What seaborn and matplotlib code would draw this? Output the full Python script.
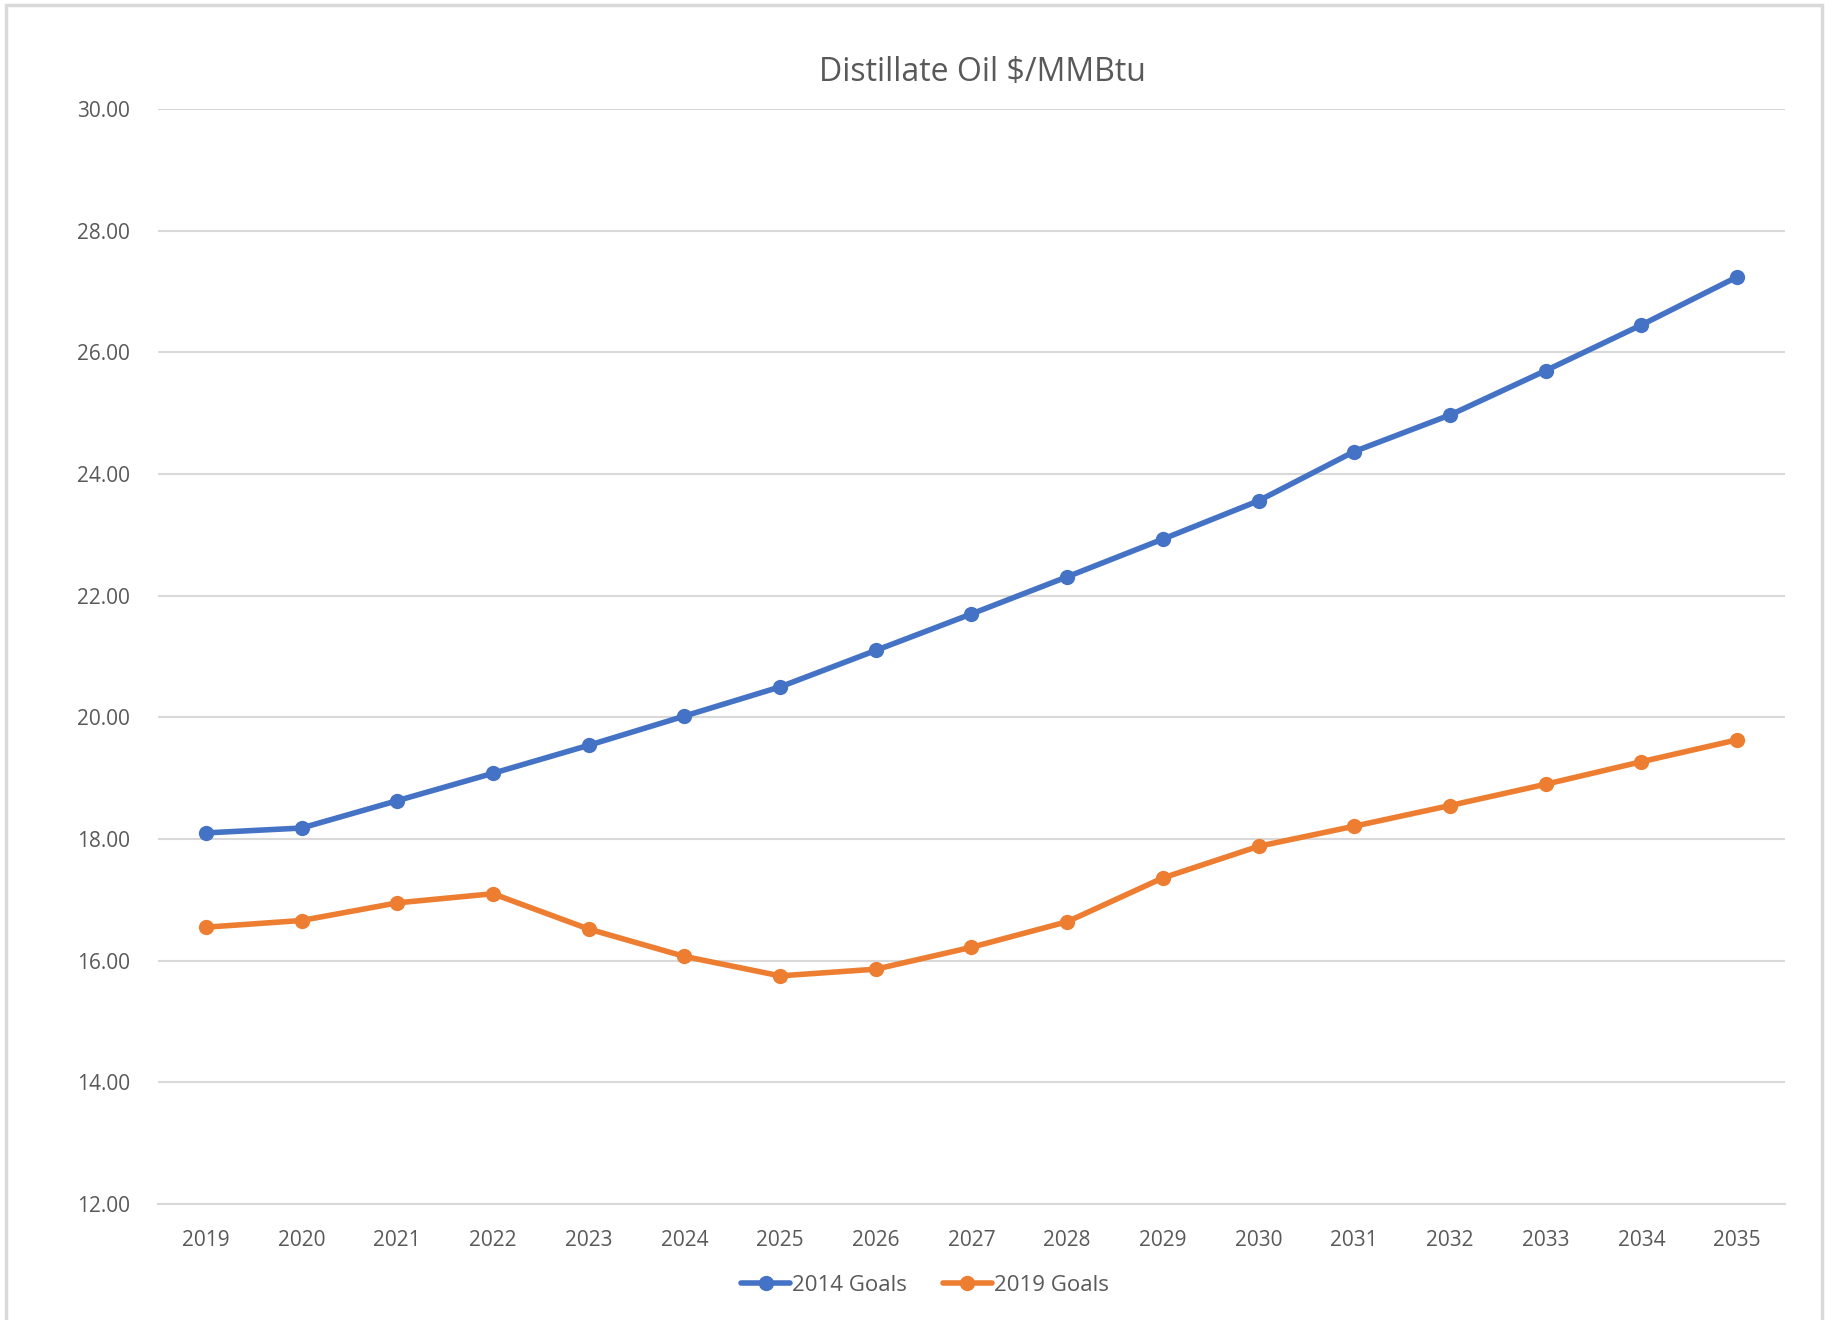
import numpy as np
import pandas as pd
import matplotlib
matplotlib.use("Agg")
import matplotlib.pyplot as plt
from matplotlib.patches import Rectangle
import seaborn as sns

# data
years = [str(y) for y in range(2019, 2036)]
goals_2014 = [18.10, 18.18, 18.63, 19.08, 19.54, 20.02, 20.50, 21.10, 21.70,
              22.31, 22.93, 23.56, 24.37, 24.97, 25.70, 26.45, 27.24]
goals_2019 = [16.55, 16.66, 16.95, 17.10, 16.52, 16.07, 15.75, 15.86, 16.22,
              16.64, 17.36, 17.88, 18.21, 18.55, 18.90, 19.27, 19.63]
series_names = ["2014 Goals", "2019 Goals"]
yticks = [12, 14, 16, 18, 20, 22, 24, 26, 28, 30]

sns.set_theme(style="white")
plt.rcParams['font.family'] = ['Open Sans', 'DejaVu Sans']
text_col = "#595959"

df = pd.DataFrame({"Year": years, series_names[0]: goals_2014, series_names[1]: goals_2019})
df = df.melt(id_vars="Year", var_name="Series", value_name="Price")

fig = plt.figure(figsize=(18.39, 13.2), dpi=100)
ax = fig.add_axes([0.0859, 0.0879, 0.8847, 0.8295])

sns.lineplot(data=df, x="Year", y="Price", hue="Series",
             palette=["#4472C4", "#ED7D31"], marker="o", markersize=11,
             markeredgewidth=0, linewidth=4, sort=False, ax=ax, legend=False)

ax.set_xlim(-0.5, len(years) - 0.5)
ax.set_ylim(12, 30)
ax.set_yticks(yticks)
ax.set_yticklabels([f"{v:.2f}" for v in yticks])
ax.grid(axis="y", color="#D9D9D9", linewidth=1.5)
ax.set_axisbelow(True)
for s in ["top", "right", "left"]:
    ax.spines[s].set_visible(False)
ax.spines["bottom"].set_color("#D9D9D9")
ax.spines["bottom"].set_linewidth(1.5)
ax.tick_params(axis="both", length=0, labelsize=15, labelcolor=text_col)
ax.tick_params(axis="y", pad=20)
ax.tick_params(axis="x", pad=19)
ax.set_xlabel("")
ax.set_ylabel("")

fig.text(0.534, 0.945, "Distillate Oil $/MMBtu", ha="center", va="center",
         fontsize=23, color=text_col)

handles = [plt.Line2D([], [], color=c, marker="o", markersize=11, linewidth=4,
                      markeredgewidth=0) for c in ["#4472C4", "#ED7D31"]]
leg = fig.legend(handles, series_names, loc="center", bbox_to_anchor=(0.503, 0.026),
                 ncol=2, frameon=False, fontsize=16, handlelength=2.2,
                 handletextpad=0.1, columnspacing=1.6)
for t in leg.get_texts():
    t.set_color(text_col)

# light border around the chart area
fig.patches.append(Rectangle((0.0035, -0.05), 0.9875, 1.046, transform=fig.transFigure,
                             fill=False, edgecolor="#D9D9D9", linewidth=2.5))

fig.savefig("out.png", dpi=100)
